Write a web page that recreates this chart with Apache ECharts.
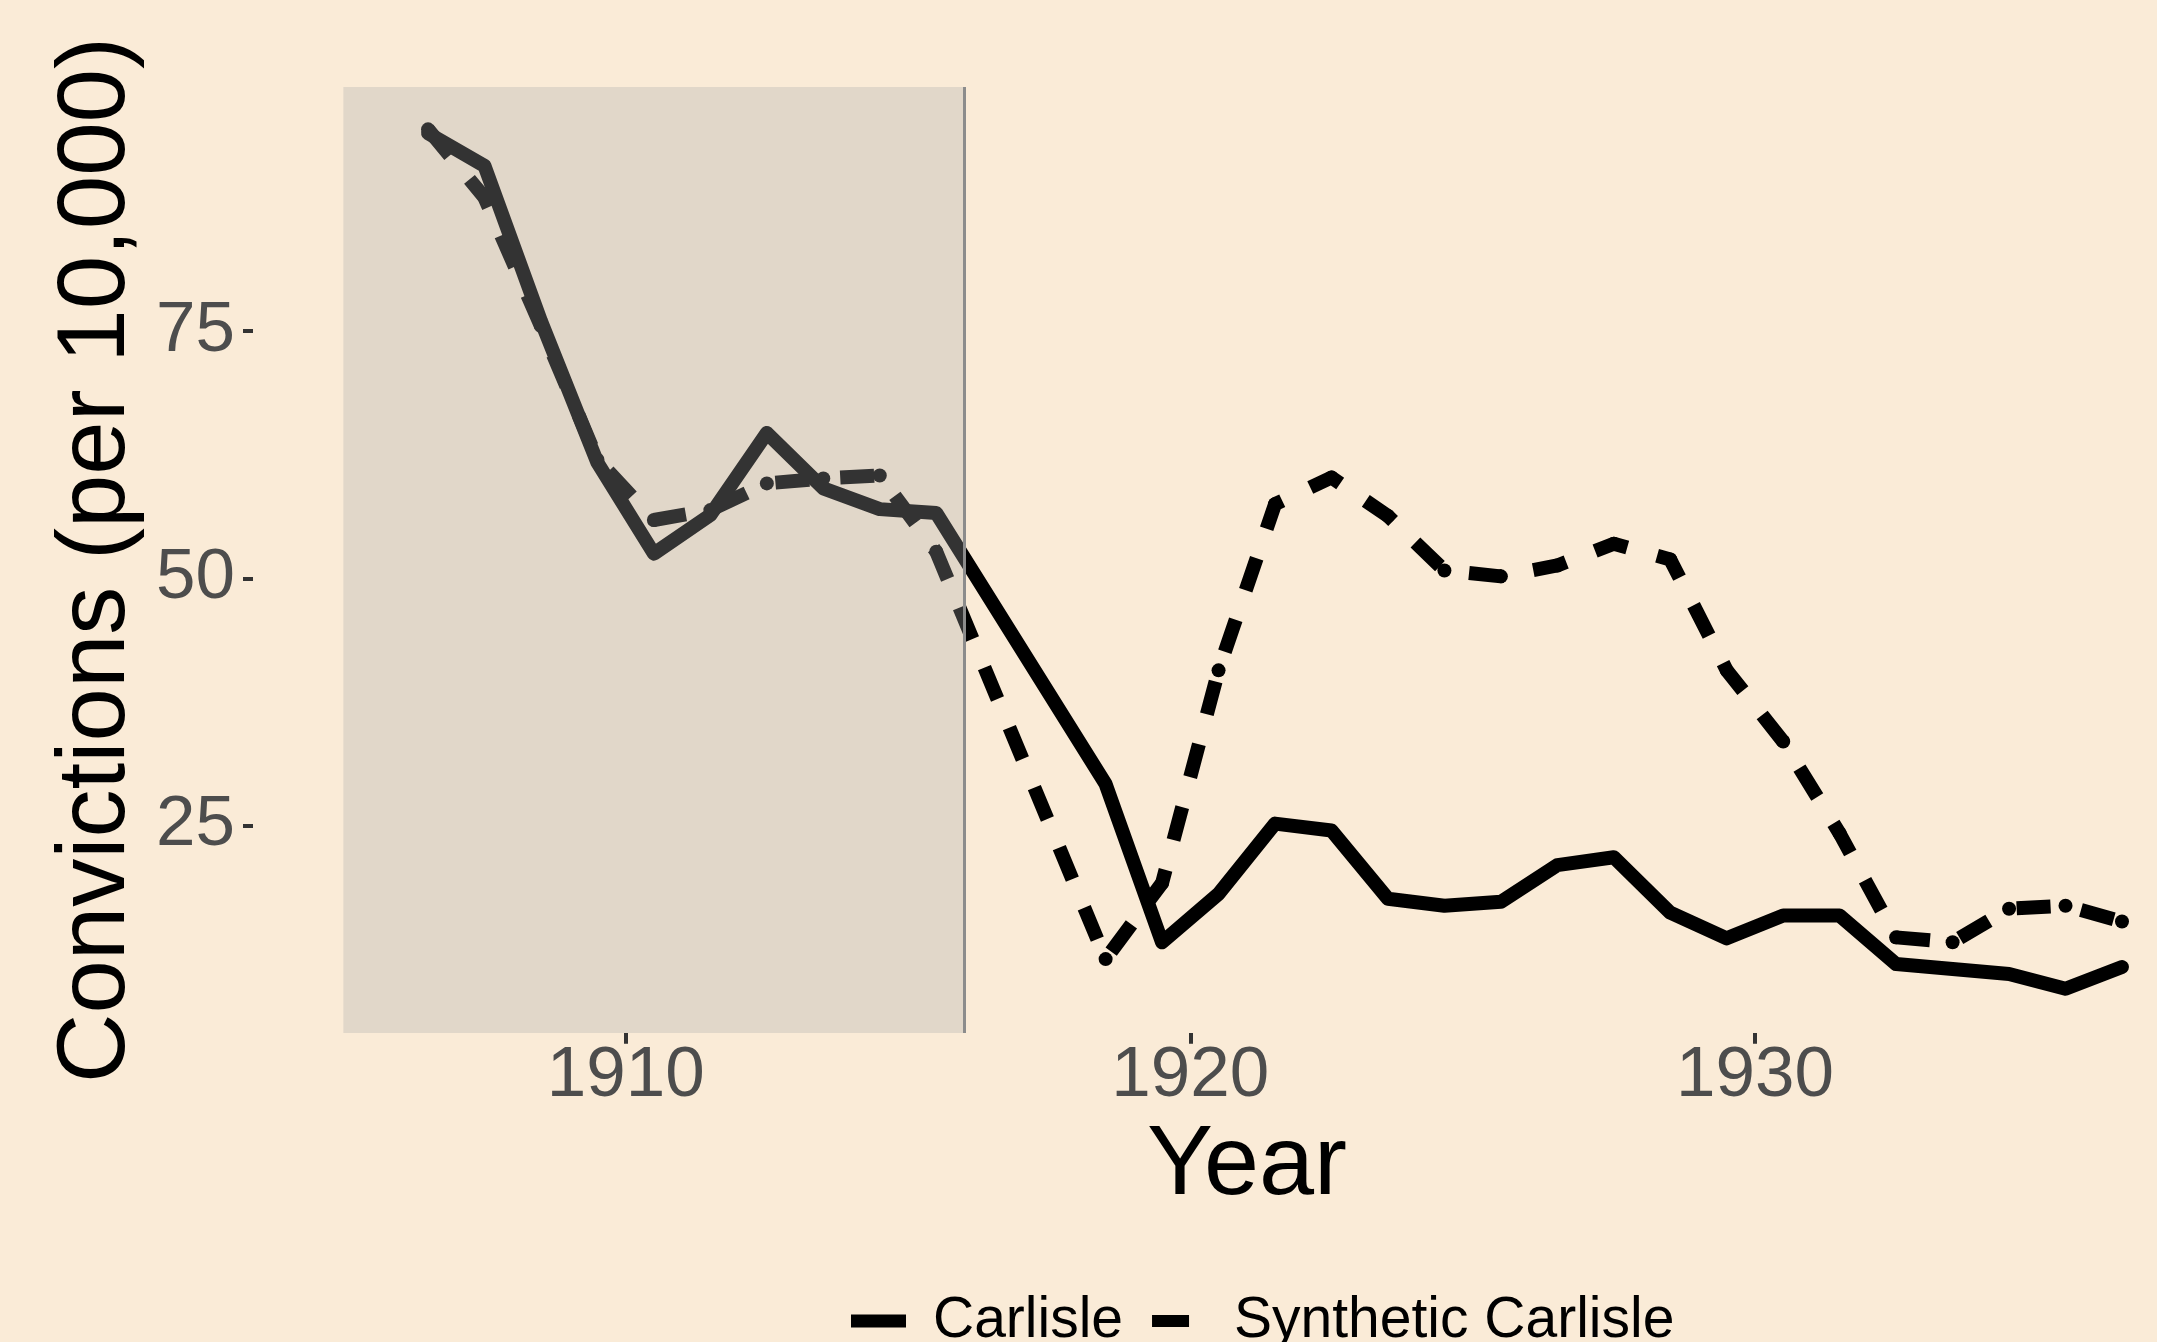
<!DOCTYPE html>
<html>
<head>
<meta charset="utf-8">
<script src="https://cdn.jsdelivr.net/npm/echarts@6/dist/echarts.min.js"></script>
<style>
  html, body { margin: 0; padding: 0; background: #FAEBD7; }
  #chart { width: 2157px; height: 1342px; }
</style>
</head>
<body>
<div id="chart"></div>
<script>
// ---- data ----
const years = [1906.5, 1907.5, 1908.5, 1909.5, 1910.5, 1911.5, 1912.5, 1913.5, 1914.5, 1915.5,
               1918.5, 1919.5, 1920.5, 1921.5, 1922.5, 1923.5, 1924.5, 1925.5, 1926.5, 1927.5,
               1928.5, 1929.5, 1930.5, 1931.5, 1932.5, 1933.5, 1934.5, 1935.5, 1936.5];
const carlisle = [95.0, 91.7, 76.0, 61.7, 52.5, 56.4, 64.7, 59.1, 57.0, 56.6,
                  29.2, 13.2, 18.1, 25.2, 24.5, 17.6, 16.9, 17.3, 21.0, 21.8,
                  16.2, 13.6, 15.9, 15.9, 11.0, 10.5, 10.0, 8.5, 10.7];
const synthetic = [95.4, 88.5, 75.5, 62.0, 55.9, 56.9, 59.6, 60.1, 60.4, 52.7,
                   11.5, 19.2, 40.7, 57.5, 60.2, 56.3, 50.8, 50.2, 51.3, 53.5,
                   51.9, 40.7, 33.5, 24.2, 13.7, 13.2, 16.6, 16.9, 15.3];
const seriesNames = ['Carlisle', 'Synthetic Carlisle'];
const xTicks = [1910, 1920, 1930];
const yTicks = [25, 50, 75];
const preStart = 1905;
const treatmentYear = 1916;

const FONT = "'Liberation Sans', Arial, Helvetica, sans-serif";
const pairs = (ys) => years.map((x, i) => [x, ys[i]]);

const chart = echarts.init(document.getElementById('chart'), null, { renderer: 'canvas' });
chart.setOption({
  backgroundColor: '#FAEBD7',
  animation: false,
  textStyle: { fontFamily: FONT },
  grid: { left: 253, right: 0, top: 87, bottom: 309, containLabel: false },
  legend: {
    left: 846,
    top: 1286,
    itemWidth: 55,
    itemHeight: 13,
    itemGap: 29,
    itemStyle: { color: '#000', borderWidth: 0 },
    textStyle: { fontSize: 57, color: '#000', fontFamily: FONT, padding: [0, 0, 0, 22], lineHeight: 60 },
    data: [
      { name: seriesNames[0], icon: 'rect' },
      { name: seriesNames[1], icon: 'path://M0,0L37,0L37,12L0,12Z M55,0L55,12' }
    ]
  },
  xAxis: {
    type: 'value',
    min: 1903.4,
    max: 1937.12,
    name: 'Year',
    nameLocation: 'middle',
    nameGap: 84,
    nameTextStyle: { fontSize: 99, color: '#000', fontFamily: FONT, padding: [0, 0, 0, 84] },
    axisLine: { show: false },
    splitLine: { show: false },
    axisTick: { show: true, length: 10.7, customValues: xTicks, lineStyle: { color: '#333333', width: 4 } },
    axisLabel: { show: true, customValues: xTicks, formatter: (v) => String(v), fontSize: 71, color: '#4D4D4D', margin: 8, fontFamily: FONT }
  },
  yAxis: {
    type: 'value',
    min: 4.03,
    max: 99.68,
    name: 'Convictions (per 10,000)',
    nameLocation: 'middle',
    nameRotate: 90,
    nameGap: 102,
    nameTextStyle: { fontSize: 96, color: '#000', fontFamily: FONT },
    axisLine: { show: false },
    splitLine: { show: false },
    axisTick: { show: true, length: 10, customValues: yTicks, lineStyle: { color: '#333333', width: 4 } },
    axisLabel: { show: true, customValues: yTicks, formatter: (v) => String(v), fontSize: 71, color: '#4D4D4D', margin: 18, fontFamily: FONT }
  },
  series: [
    {
      name: seriesNames[0],
      type: 'line',
      data: pairs(carlisle),
      showSymbol: false,
      symbol: 'none',
      lineStyle: { color: '#000', width: 14, cap: 'round', join: 'round' },
      itemStyle: { color: '#000' },
      markArea: {
        z: 10,
        silent: true,
        itemStyle: { color: 'rgba(170,170,170,0.3)', borderWidth: 0 },
        data: [[{ xAxis: preStart }, { xAxis: treatmentYear }]]
      },
      markLine: {
        z: 11,
        silent: true,
        symbol: ['none', 'none'],
        label: { show: false },
        lineStyle: { color: '#8c8c8c', width: 3, type: 'solid' },
        data: [{ xAxis: treatmentYear }]
      }
    },
    {
      name: seriesNames[1],
      type: 'line',
      data: pairs(synthetic),
      showSymbol: true,
      symbol: 'circle',
      symbolSize: 14,
      itemStyle: { color: '#000', borderWidth: 0 },
      lineStyle: { color: '#000', width: 14, type: [34, 31], cap: 'butt', join: 'round' }
    }
  ]
});
</script>
</body>
</html>
